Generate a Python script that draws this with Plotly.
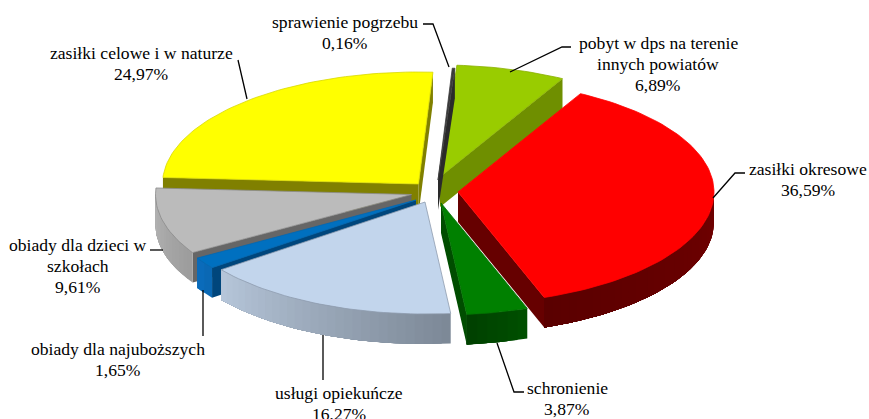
import math
import plotly.graph_objects as go

# --- data -----------------------------------------------------------------
names = ["sprawienie pogrzebu", "pobyt w dps na terenie<br>innych powiatów", "zasiłki okresowe",
         "schronienie", "usługi opiekuńcze", "obiady dla najuboższych",
         "obiady dla dzieci w<br>szkołach", "zasiłki celowe i w naturze"]
values = [0.16, 6.89, 36.59, 3.87, 16.27, 1.65, 9.61, 24.97]

# --- style ----------------------------------------------------------------
top_colors = ["#3A3A3A", "#99CC00", "#FF0000", "#008000", "#C2D5EC", "#0070C0", "#BBBBBB", "#FFFF00"]
cut_colors = ["#2A2A2A", "#6F8F00", "#660000", "#004D00", "#8090A0", "#00467C", "#666666", "#808000"]
wall_left  = ["#2A2A2A", "#6F8F00", "#5A0000", "#004000", "#B6C6DA", "#0A6DBE", "#B4B4B4", "#808000"]
wall_right = ["#2A2A2A", "#6F8F00", "#700000", "#005000", "#7C8896", "#0A66B0", "#9C9C9C", "#808000"]
edge_colors = ["#3A3A3A", "#8AB000", "#FF0000", "#007000", "#8E9CAE", "#0068B4", "#8C8C8C", "#D8D800"]
apex_x = [438, 440, 458, 441, 425, 416, 411.5, 418.5]
apex_y = [180, 177, 192, 203, 202, 200, 194.5, 184]
draw_order = [1, 0, 7, 6, 5, 4, 3, 2]
label_x = [345, 658, 808, 567, 339, 118, 78, 141]
label_y = [21.5, 43, 169, 388, 393, 349, 245, 53]
LINE_STEP = 21
leaders = [([423, 433, 449], [24, 24, 67]), ([510, 562, 571], [72, 47, 47]),
           ([713, 735, 745], [198, 173, 173]), ([497, 514, 524], [343, 392, 392]),
           ([323, 323], [335, 380]), ([203, 203], [290, 336]),
           ([150, 163], [250, 250]), ([238, 247], [60, 99])]
RX, RY, DEPTH, ROT = 256, 112, 30, 3.2
FONT = "Liberation Serif"

fig = go.Figure()


def rim(i, t):
    r = math.radians(t)
    return apex_x[i] + RX * math.sin(r), apex_y[i] - RY * math.cos(r)


def poly(xs, ys, color, edge=None, width=0.0):
    fig.add_trace(go.Scatter(x=xs, y=ys, mode="lines", fill="toself", fillcolor=color,
                             line=dict(color=edge or color, width=width), hoverinfo="skip", showlegend=False))


def mix(c1, c2, f):
    a = [int(c1[k:k + 2], 16) for k in (1, 3, 5)]
    b = [int(c2[k:k + 2], 16) for k in (1, 3, 5)]
    return "#%02X%02X%02X" % tuple(round(p + (q - p) * f) for p, q in zip(a, b))


cum = [ROT]
for v in values:
    cum.append(cum[-1] + v * 3.6)

for i in draw_order:
    t0, t1 = cum[i], cum[i + 1]
    ax, ay = apex_x[i], apex_y[i]
    x0, y0 = rim(i, t0)
    x1, y1 = rim(i, t1)
    cross = (x0 - ax) * (y1 - ay) - (y0 - ay) * (x1 - ax)
    sign = 1 if cross > 0 else -1
    for (xr, yr, outward) in ((x0, y0, -1), (x1, y1, 1)):
        ny = outward * sign * (xr - ax)
        if ny > 0:
            poly([ax, xr, xr, ax, ax], [ay, yr, yr + DEPTH, ay + DEPTH, ay], cut_colors[i])
    # outer wall, front half only: overlapping bands give the shading without seams
    a, b = max(t0, 90), min(t1, 270)
    if b > a:
        n = max(2, int((b - a) / 2))
        for k in range(n):
            ta = a + (b - a) * k / n
            m = max(2, int((b - ta) / 1.5))
            pts = [rim(i, ta + (b - ta) * j / m) for j in range(m + 1)]
            xs = [p[0] for p in pts] + [p[0] for p in pts[::-1]]
            ys = [p[1] for p in pts] + [p[1] + DEPTH for p in pts[::-1]]
            poly(xs + xs[:1], ys + ys[:1], mix(wall_right[i], wall_left[i], (k + 0.5) / n))
    # top face
    m = max(2, int((t1 - t0) / 1.5))
    pts = [rim(i, t0 + (t1 - t0) * j / m) for j in range(m + 1)]
    poly([ax] + [p[0] for p in pts] + [ax], [ay] + [p[1] for p in pts] + [ay], top_colors[i],
         edge_colors[i], 0.8)

for lx, ly in leaders:
    fig.add_trace(go.Scatter(x=lx, y=ly, mode="lines", line=dict(color="#000000", width=1.3),
                             hoverinfo="skip", showlegend=False))

for i, name in enumerate(names):
    lines = name.split("<br>") + [f"{values[i]:.2f}".replace(".", ",") + "%"]
    for j, line in enumerate(lines):
        fig.add_annotation(x=label_x[i], y=label_y[i] + j * LINE_STEP, text=line, showarrow=False,
                           xanchor="center", yanchor="middle",
                           font=dict(family=FONT, size=17.6, color="#000000"))

fig.update_xaxes(range=[0, 869], visible=False, fixedrange=True)
fig.update_yaxes(range=[419, 0], visible=False, fixedrange=True)
fig.update_layout(width=869, height=419, margin=dict(l=0, r=0, t=0, b=0),
                  paper_bgcolor="#FFFFFF", plot_bgcolor="#FFFFFF", showlegend=False)
fig.write_html("out.html", config={"displayModeBar": False},
               post_script="document.body.style.margin='0';document.body.style.overflow='hidden';")
